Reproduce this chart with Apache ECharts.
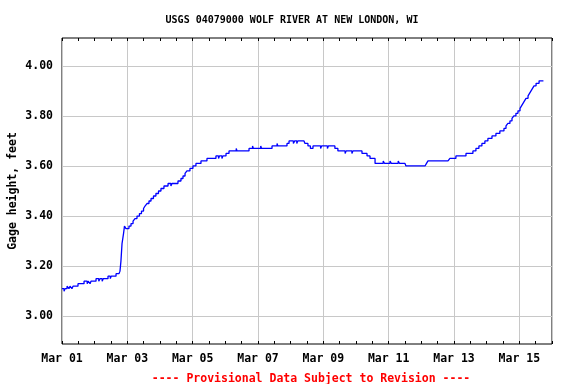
<!DOCTYPE html>
<html>
<head>
<meta charset="utf-8">
<script src="https://cdn.jsdelivr.net/npm/echarts@6/dist/echarts.min.js"></script>
<style>html,body{margin:0;padding:0;background:#fff}#c{width:576px;height:384px}</style>
</head>
<body>
<div id="c"></div>
<script>
// Hours since Mar 01 00:00
var hours = [0,1.5,2.2,3.7,5.1,5.9,7.3,8.1,9.5,11.75,14.7,16.2,18.5,19.2,20.6,21.3,22.8,25,27,28,29.5,30.3,32.3,33.8,35.5,36.2,38.2,39.7,41.9,42.6,43.3,44.1,45.2,45.9,47,49.2,50.7,52.2,53.6,55.1,56.9,58.4,59.9,61,62.4,63.9,65.4,67.2,69,70.9,72.7,74.9,77.9,80,80.8,83.7,85.2,87.4,88.9,90.4,91.8,94,96.2,98.4,102.1,106.5,110.9,113.1,115,115.7,117.5,118.2,120.5,122.7,128,128.6,134.4,137.4,140,140.6,146,146.6,152.8,154.3,158,158.6,163.8,165.3,166.8,170,171,172.5,173.2,177.8,178.5,180.7,182.5,184.4,190,190.7,195,195.7,200.5,202.7,208,208.7,213,213.7,220.4,224.1,226.3,230,236,237,241,242,247,248,252,252.7,266.7,267.8,268.9,283.6,285,289.4,292.4,296.8,301.9,304.1,306.3,308.5,310.7,312.9,315.9,318.8,321.7,324.7,326.2,327.6,329.1,330.6,332,333.5,335,336.5,337.6,338.7,339.8,340.9,342.4,343.5,344.6,345.7,346.8,348.3,350.5,353.7];
var gageHeight = [3.11,3.10,3.11,3.12,3.11,3.12,3.11,3.12,3.12,3.13,3.13,3.14,3.13,3.14,3.13,3.14,3.14,3.15,3.14,3.15,3.14,3.15,3.15,3.16,3.15,3.16,3.16,3.17,3.17,3.18,3.22,3.29,3.33,3.36,3.35,3.36,3.37,3.38,3.39,3.40,3.41,3.42,3.43,3.44,3.45,3.46,3.47,3.48,3.49,3.50,3.51,3.52,3.53,3.52,3.53,3.53,3.54,3.55,3.56,3.57,3.58,3.59,3.60,3.61,3.62,3.63,3.63,3.64,3.63,3.64,3.63,3.64,3.65,3.66,3.67,3.66,3.66,3.67,3.68,3.67,3.68,3.67,3.67,3.68,3.69,3.68,3.68,3.69,3.70,3.69,3.70,3.69,3.70,3.70,3.69,3.68,3.67,3.68,3.67,3.68,3.67,3.68,3.67,3.66,3.65,3.66,3.65,3.66,3.65,3.64,3.63,3.61,3.62,3.61,3.62,3.61,3.62,3.61,3.61,3.60,3.60,3.61,3.62,3.62,3.63,3.64,3.64,3.65,3.66,3.67,3.68,3.69,3.70,3.71,3.72,3.73,3.74,3.75,3.76,3.77,3.78,3.79,3.80,3.81,3.82,3.83,3.84,3.85,3.86,3.87,3.88,3.89,3.90,3.91,3.92,3.93,3.94,3.94];
var yTicks = [3.00,3.20,3.40,3.60,3.80,4.00];
var xLabelDays = ['Mar 01','Mar 03','Mar 05','Mar 07','Mar 09','Mar 11','Mar 13','Mar 15'];
var title = 'USGS 04079000 WOLF RIVER AT NEW LONDON, WI';
var yName = 'Gage height, feet';
var footer = '---- Provisional Data Subject to Revision ----';

var data = hours.map(function(h,i){return [h, gageHeight[i]];});
var FONT = 'DejaVu Sans Mono';
var chart = echarts.init(document.getElementById('c'), null, {renderer:'canvas'});
chart.setOption({
  animation:false,
  backgroundColor:'#fff',
  title:[{text:title,left:287,top:10,textAlign:'center',
    textStyle:{fontFamily:FONT,fontSize:10,fontWeight:'bold',color:'#000'}},
    {text:footer,left:306,top:368,textAlign:'center',
    textStyle:{fontFamily:FONT,fontSize:11.5,fontWeight:'bold',color:'#ff0000'}}],
  grid:{left:62,right:24,top:38,bottom:40,show:true,borderColor:'#000',borderWidth:1,backgroundColor:'transparent',
    containLabel:false,outerBoundsMode:'none'},
  xAxis:[{type:'value',min:0,max:360,interval:48,position:'bottom',
    axisLine:{show:false},
    axisTick:{show:true,inside:true,length:3,lineStyle:{color:'#000'}},
    minorTick:{show:true,splitNumber:4,length:3,lineStyle:{color:'#000'}},
    splitLine:{show:true,lineStyle:{color:'#c8c8c8',width:1}},
    axisLabel:{margin:9,fontFamily:FONT,fontSize:11.5,fontWeight:'bold',color:'#000',
      formatter:function(v){return xLabelDays[Math.round(v/48)]||'';}}},
    {type:'value',min:0,max:360,interval:48,position:'top',
    axisLine:{show:false},
    axisTick:{show:true,inside:true,length:3,lineStyle:{color:'#000'}},
    minorTick:{show:true,splitNumber:4,length:3,lineStyle:{color:'#000'}},
    splitLine:{show:false},axisLabel:{show:false}}],
  yAxis:{type:'value',min:2.889,max:4.111,
    name:yName,nameLocation:'middle',nameGap:43,nameRotate:90,nameMoveOverlap:false,
    nameTextStyle:{fontFamily:FONT,fontSize:11.5,fontWeight:'bold',color:'#000'},
    axisLine:{show:false},
    axisTick:{show:false,customValues:yTicks},
    splitLine:{show:true,lineStyle:{color:'#c8c8c8',width:1}},
    axisLabel:{customValues:yTicks,margin:9,fontFamily:FONT,fontSize:11.5,fontWeight:'bold',color:'#000',
      formatter:function(v){return v.toFixed(2);}}},
  series:[{type:'line',data:data,step:'end',symbol:'none',
    lineStyle:{color:'#0000ff',width:1.3},xAxisIndex:0}]
});
</script>
</body>
</html>
